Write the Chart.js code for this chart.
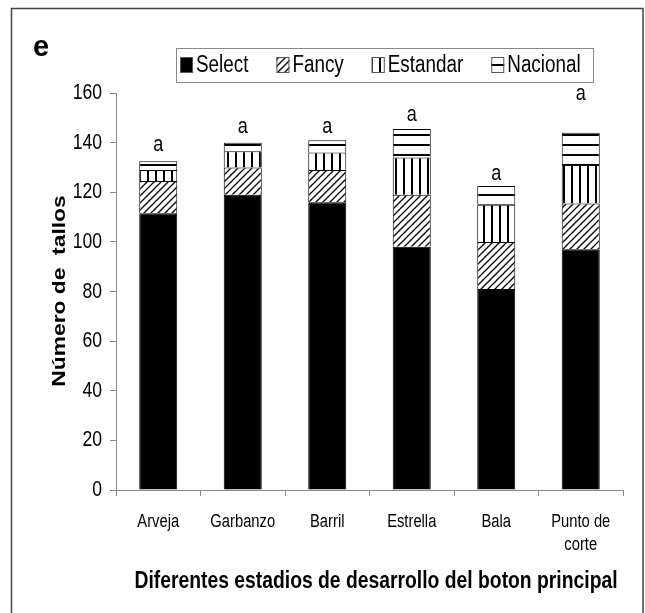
<!DOCTYPE html>
<html>
<head>
<meta charset="utf-8">
<script src="https://cdn.jsdelivr.net/npm/chart.js@4.4.1/dist/chart.umd.min.js"></script>
<style>
  html, body { margin: 0; padding: 0; background: #fff; }
</style>
</head>
<body>
<canvas id="chart" width="645" height="613"></canvas>
<script>
// values
const categories = ["Arveja", "Garbanzo", "Barril", "Estrella", "Bala", ["Punto de", "corte"]];
const select = [111.5, 119, 116, 98, 81, 97];
const fancy = [13, 11, 13, 21, 19, 18.5];
const estandar = [4.5, 6.5, 7, 15, 15, 15.5];
const nacional = [3.5, 3.5, 5, 11.5, 7.5, 13];
const letters = ["a", "a", "a", "a", "a", "a"];
const letterPos = [139, 146.5, 146.5, 151, 127.5, 159.5];
const xTitle = "Diferentes estadios de desarrollo del boton principal";
const yTitle = "Número de  tallos";

const FONT = "'Liberation Sans', Arial, sans-serif";
const SQUEEZE = 0.82; // no narrow face installed, so squeeze the regular one

function makePattern(w, h, draw) {
  const c = document.createElement("canvas");
  c.width = w;
  c.height = h;
  const g = c.getContext("2d");
  g.fillStyle = "#fff";
  g.fillRect(0, 0, w, h);
  g.strokeStyle = "#000";
  g.fillStyle = "#000";
  draw(g);
  return c.getContext("2d").createPattern(c, "repeat");
}

const hatch = makePattern(7, 7, (g) => {
  g.lineWidth = 1.3;
  g.beginPath();
  g.moveTo(-1, 8); g.lineTo(8, -1);
  g.moveTo(-1, 1); g.lineTo(1, -1);
  g.moveTo(6, 8); g.lineTo(8, 6);
  g.stroke();
});
const vlines = makePattern(8, 8, (g) => g.fillRect(3, 0, 2, 8));
const hlines = makePattern(8, 10, (g) => g.fillRect(0, 4, 8, 2));

// text in a narrow look
function narrow(ctx, text, x, y, size, opts = {}) {
  ctx.save();
  ctx.font = (opts.bold ? "bold " : "") + size + "px " + FONT;
  ctx.textAlign = opts.align || "center";
  ctx.textBaseline = "middle";
  ctx.fillStyle = "#000";
  ctx.translate(x, y);
  ctx.scale(opts.squeeze || SQUEEZE, 1);
  ctx.fillText(text, 0, 0);
  const w = ctx.measureText(text).width * (opts.squeeze || SQUEEZE);
  ctx.restore();
  return w;
}

const decor = {
  id: "decor",
  beforeDraw(chart) {
    const ctx = chart.ctx;
    ctx.save();
    ctx.fillStyle = "#fff";
    ctx.fillRect(0, 0, chart.width, chart.height);
    ctx.restore();
  },
  afterDraw(chart) {
    const ctx = chart.ctx;
    const xs = chart.scales.x;
    const ys = chart.scales.y;
    ctx.save();
    ctx.strokeStyle = "#444";
    ctx.lineWidth = 1.5;
    ctx.beginPath();
    ctx.moveTo(11.5, 613);
    ctx.lineTo(11.5, 8.5);
    ctx.lineTo(643, 8.5);
    ctx.lineTo(643, 613);
    ctx.stroke();

    ctx.fillStyle = "#000";
    ctx.font = "bold 29px " + FONT;
    ctx.textBaseline = "alphabetic";
    ctx.fillText("e", 33, 56);

    // legend
    ctx.strokeStyle = "#888";
    ctx.lineWidth = 1;
    ctx.strokeRect(176.5, 48.5, 417, 34);
    let x = 180;
    chart.data.datasets.forEach((ds) => {
      ctx.fillStyle = ds.backgroundColor;
      ctx.fillRect(x, 57, 13, 16);
      ctx.strokeStyle = "#555";
      ctx.strokeRect(x + 0.5, 57.5, 12, 15);
      const w = narrow(ctx, ds.label, x + 16, 66, 23, { align: "left" });
      x += 16 + w + 28;
    });

    // tick labels
    ys.ticks.forEach((t, i) => {
      narrow(ctx, String(t.value), 102, ys.getPixelForTick(i), 22, { align: "right", squeeze: 0.8 });
    });
    chart.data.labels.forEach((lab, i) => {
      const lines = Array.isArray(lab) ? lab : [lab];
      lines.forEach((ln, j) => {
        narrow(ctx, ln, xs.getPixelForValue(i), 522 + j * 23, 18);
      });
    });

    // letters above bars
    letters.forEach((t, i) => {
      narrow(ctx, t, xs.getPixelForValue(i), ys.getPixelForValue(letterPos[i]), 22);
    });

    // axis titles
    narrow(ctx, xTitle, 376, 582, 23, { bold: true, squeeze: 0.84 });
    ctx.translate(60, 291);
    ctx.rotate(-Math.PI / 2);
    ctx.scale(1.2, 1);
    ctx.font = "bold 19px " + FONT;
    ctx.textAlign = "center";
    ctx.textBaseline = "middle";
    ctx.fillStyle = "#000";
    ctx.fillText(yTitle, 0, 0);
    ctx.restore();
  }
};

const ctx = document.getElementById("chart").getContext("2d");
new Chart(ctx, {
  type: "bar",
  data: {
    labels: categories,
    datasets: [
      { label: "Select", data: select, backgroundColor: "#000" },
      { label: "Fancy", data: fancy, backgroundColor: hatch },
      { label: "Estandar", data: estandar, backgroundColor: vlines },
      { label: "Nacional", data: nacional, backgroundColor: hlines },
    ],
  },
  options: {
    responsive: false,
    animation: false,
    devicePixelRatio: 1,
    layout: { padding: { top: 93, left: 0, right: 22, bottom: 0 } },
    datasets: {
      bar: {
        borderColor: "#000",
        borderWidth: 1,
        barPercentage: 0.45,
        categoryPercentage: 1,
      },
    },
    plugins: {
      legend: { display: false },
      tooltip: { enabled: false },
    },
    scales: {
      x: {
        stacked: true,
        grid: { display: true, drawOnChartArea: false, tickLength: 6, color: "#888" },
        border: { display: true, color: "#888" },
        ticks: { color: "rgba(0,0,0,0)", font: { size: 18 }, maxRotation: 0 },
        afterFit(scale) { scale.height = 123; },
      },
      y: {
        stacked: true,
        min: 0,
        max: 160,
        grid: { display: true, drawOnChartArea: false, tickLength: 6, color: "#888" },
        border: { display: true, color: "#888" },
        ticks: { stepSize: 20, color: "rgba(0,0,0,0)", font: { size: 22 } },
        afterFit(scale) { scale.width = 116; },
      },
    },
  },
  plugins: [decor],
});
</script>
</body>
</html>
